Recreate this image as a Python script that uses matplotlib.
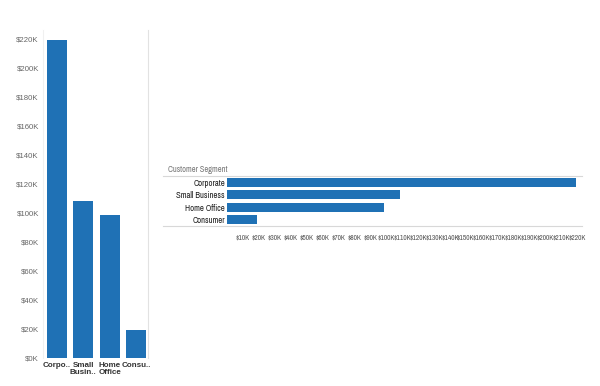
import matplotlib
matplotlib.use("Agg")
import matplotlib.pyplot as plt
from matplotlib.lines import Line2D

# sales by customer segment, in thousands of dollars
segments = ["Corporate", "Small Business", "Home Office", "Consumer"]
short_labels = ["Corpo..", "Small\nBusin..", "Home\nOffice", "Consu.."]
sales_k = [219, 108.5, 98.5, 19]

y_ticks_k = list(range(0, 221, 20))
x_ticks_k = list(range(10, 221, 10))

blue = "#1f71b5"
narrow = ["Archivo Narrow", "DejaVu Sans"]
plt.rcParams["font.family"] = ["Liberation Sans", "DejaVu Sans"]

fig = plt.figure(figsize=(6, 3.86), dpi=100)

# left: vertical bars
ax1 = fig.add_axes([43 / 600, 28 / 386, 105 / 600, 328 / 386])
ax1.bar(range(len(segments)), sales_k, width=0.75, color=blue)
ax1.set_xlim(-0.52, 3.44)
ax1.set_ylim(0, 226)
ax1.set_yticks(y_ticks_k)
ax1.set_yticklabels(["${}K".format(v) for v in y_ticks_k])
ax1.set_xticks(range(len(segments)))
ax1.set_xticklabels(short_labels, fontweight="bold", linespacing=0.95)
ax1.tick_params(axis="y", length=0, labelsize=5.6, labelcolor="#666666", pad=3)
ax1.tick_params(axis="x", length=0, labelsize=5.8, labelcolor="#333333", pad=3)
for side in ["top", "bottom"]:
    ax1.spines[side].set_visible(False)
ax1.spines["left"].set_color("#f0f0f0")
ax1.spines["right"].set_color("#e2e2e2")

# right: horizontal bars
ax2 = fig.add_axes([227 / 600, 160 / 386, 355 / 600, 50 / 386])
ax2.barh(range(len(segments)), sales_k, height=0.7, color=blue)
ax2.set_ylim(3.5, -0.5)
ax2.set_xlim(0, 223)
ax2.set_yticks(range(len(segments)))
ax2.set_yticklabels(segments, family=narrow, fontweight="bold")
ax2.set_xticks(x_ticks_k)
ax2.set_xticklabels(["${}K".format(v) for v in x_ticks_k], family=narrow)
ax2.tick_params(axis="y", length=0, labelsize=6.2, labelcolor="#1e1e1e", pad=1.5)
ax2.tick_params(axis="x", length=0, labelsize=5.3, labelcolor="#555555", pad=6)
for side in ax2.spines.values():
    side.set_visible(False)

fig.text(228 / 600, 1 - 170 / 386, "Customer Segment", ha="right", va="center",
         fontsize=6, color="#777777", family=narrow)
for yy in [176, 226]:
    fig.add_artist(Line2D([163 / 600, 582 / 600], [1 - yy / 386, 1 - yy / 386],
                          color="#d8d8d8", lw=0.8))

fig.savefig("out.png", dpi=100)
